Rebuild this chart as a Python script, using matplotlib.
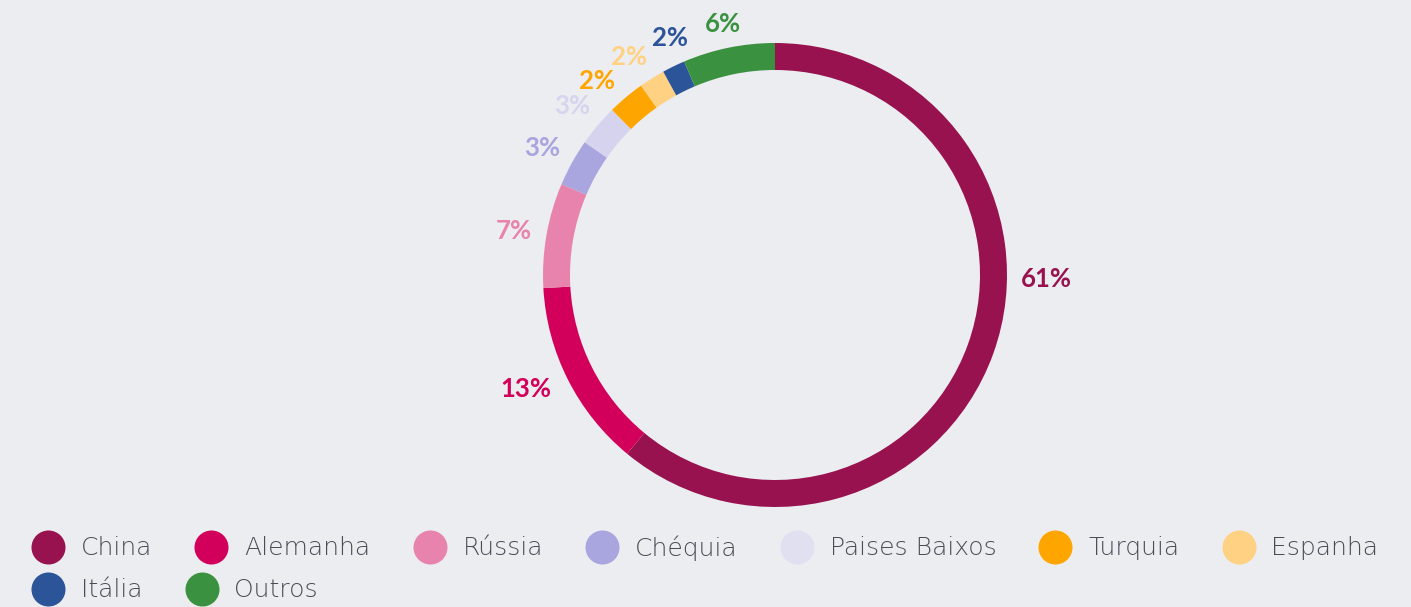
import matplotlib
matplotlib.use("Agg")
import matplotlib.pyplot as plt
import numpy as np

# shares (clockwise from the top)
countries = ["China", "Alemanha", "Rússia", "Chéquia", "Paises Baixos",
             "Turquia", "Espanha", "Itália", "Outros"]
shares = [61.0, 13.1, 7.3, 3.3, 2.9, 2.6, 1.8, 1.6, 6.4]
labels = ["61%", "13%", "7%", "3%", "3%", "2%", "2%", "2%", "6%"]
ring_colors = ["#98124F", "#D2005A", "#E883AD", "#A9A5DF", "#D5D3EE",
               "#FFA500", "#FFD183", "#2C5499", "#3A9140"]
legend_colors = ["#98124F", "#D2005A", "#E883AD", "#A9A5DF", "#E1E0F1",
                 "#FFA500", "#FFD183", "#2C5499", "#3A9140"]
# small angle nudges (deg) so the crowded labels don't collide
nudge = [0, -2.5, 0, 0, 0, 2.2, 1.5, -2.2, 0]

W, H = 1411, 607
bg = "#ECEDF1"
cx, cy = 775, H - 275
R, width = 232, 27

fig = plt.figure(figsize=(W / 100, H / 100), dpi=100, facecolor=bg)
ax = fig.add_axes([0, 0, 1, 1])
ax.set_facecolor(bg)

wedges, _ = ax.pie(shares, colors=ring_colors, startangle=90, counterclock=False,
                   center=(cx, cy), radius=R,
                   wedgeprops=dict(width=width, linewidth=0))
ax.set_xlim(0, W)
ax.set_ylim(0, H)
ax.set_aspect("equal")
ax.axis("off")

renderer = fig.canvas.get_renderer()

# percentage labels outside the ring, kept a fixed gap from the outer edge
gap = 14
for i, w in enumerate(wedges):
    mid = (w.theta1 + w.theta2) / 2 + nudge[i]
    if i == 0:
        # the big slice has its label at the right side
        mid = -0.5
    mid = np.deg2rad(mid)
    t = ax.text(0, 0, labels[i],
                color=ring_colors[i] if i != 4 else "#D7D5EE",
                fontsize=18.5, fontweight="bold", family="Lato",
                ha="center", va="center_baseline")
    bb = t.get_window_extent(renderer)
    hw, hh = bb.width / 2, 9
    r = R + gap + hw * abs(np.cos(mid)) + hh * abs(np.sin(mid))
    t.set_position((cx + r * np.cos(mid), cy + r * np.sin(mid)))

# legend as a flowing row of dots + names
x = 31
row_y = H - 547
for name, col in zip(countries, legend_colors):
    t = ax.text(0, row_y, name, fontsize=18, fontweight="light", family="DejaVu Sans",
                color="#4C4C57", ha="left", va="center")
    tw = t.get_window_extent(renderer).width
    if x + 50 + tw > W:
        x = 31
        row_y -= 42
    ax.scatter([x + 17], [row_y], s=600, color=col, linewidths=0, zorder=3)
    t.set_position((x + 50, row_y - 1))
    x += 50 + tw + 42

fig.savefig("out.png", dpi=100, facecolor=bg)
